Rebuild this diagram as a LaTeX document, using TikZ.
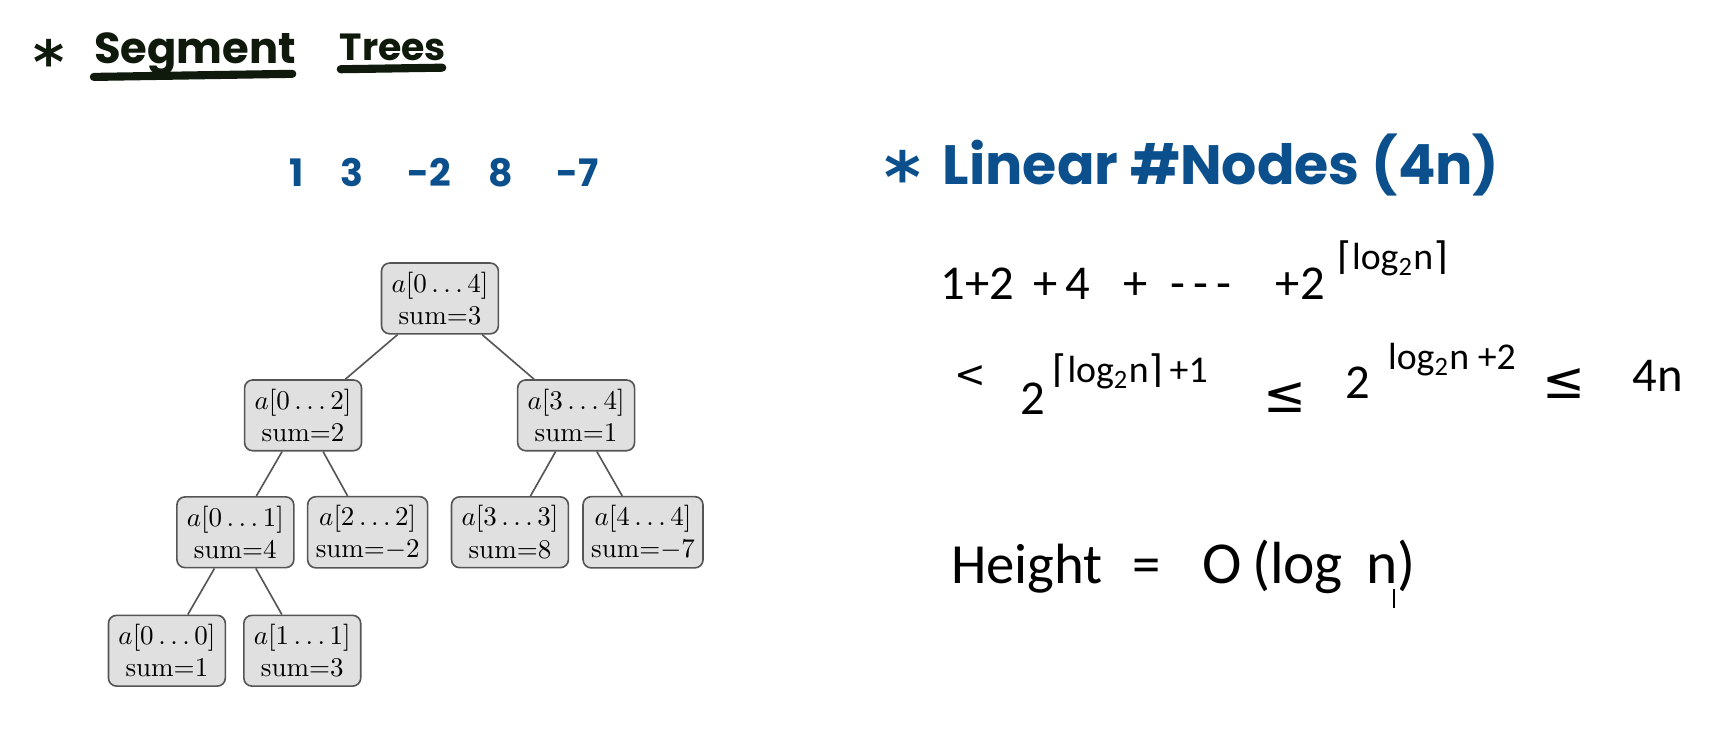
\documentclass[tikz,border=0pt]{standalone}
\usepackage{fontspec}
\usepackage{tikz}
\usetikzlibrary{positioning}
\newfontfamily\handfont{Carlito}
\newfontfamily\headfont{Poppins}
\newfontfamily\symfont{DejaVu Sans}
\definecolor{inkdark}{HTML}{0F1A0C}
\definecolor{inkblue}{HTML}{0B508C}
\definecolor{segfill}{HTML}{E0E0E0}
\definecolor{segline}{HTML}{555555}
\newcommand{\ceillog}{{\symfont ⌈}log\textsubscript{2}n{\symfont ⌉}}
\tikzset{
    segnode/.style={draw=segline, fill=segfill, rounded corners=3pt, align=center,
        inner sep=3pt, minimum width=1.52cm, minimum height=0.92cm, line width=0.6pt},
    segedge/.style={draw=segline, line width=0.6pt},
    headtext/.style={font=\headfont\bfseries\fontsize{16}{19}\selectfont, text=inkdark, inner sep=0pt},
    bluetext/.style={font=\headfont\bfseries\fontsize{20.5}{24}\selectfont, text=inkblue, inner sep=0pt},
    startext/.style={font=\symfont\bfseries\fontsize{22}{26}\selectfont, inner sep=0pt, anchor=base},
    hand/.style={font=\handfont\fontsize{18}{22}\selectfont, inner sep=0pt, anchor=base west},
    expo/.style={font=\handfont\fontsize{14}{16}\selectfont, inner sep=0pt, anchor=base west}
}

\begin{document}
\begin{tikzpicture}
    \path[use as bounding box, fill=white] (0,0) rectangle (22.44,9.72);

    % Title
    \node[startext, text=inkdark] (star1) at (0.64,8.64) {*};
    \node[headtext, anchor=base west] (segword) at (1.22,8.89) {Segment};
    \node[headtext, anchor=base west, font=\headfont\bfseries\fontsize{14}{16}\selectfont] (treesword) at (4.41,8.93) {Trees};
    \draw[inkdark, line width=3pt, line cap=round] (1.22,8.72) -- (3.80,8.76);
    \draw[inkdark, line width=3pt, line cap=round] (4.43,8.82) -- (5.75,8.84);

    % Input array
    \foreach \v/\x [count=\i] in {1/3.86, 3/4.58, -2/5.58, 8/6.51, -7/7.51} {
        \node[bluetext, font=\headfont\bfseries\fontsize{14}{16}\selectfont, anchor=base] (num\i) at (\x,7.29) {\v};
    }

    % Segment tree
    \node[segnode] (r04) at (5.72,5.84) {$a[0\ldots4]$\\sum=3};
    \node[segnode] (r02) at (3.94,4.32) {$a[0\ldots2]$\\sum=2};
    \node[segnode] (r34) at (7.49,4.32) {$a[3\ldots4]$\\sum=1};
    \node[segnode] (r01) at (3.06,2.80) {$a[0\ldots1]$\\sum=4};
    \node[segnode] (r22) at (4.78,2.80) {$a[2\ldots2]$\\sum=$-$2};
    \node[segnode] (r33) at (6.63,2.80) {$a[3\ldots3]$\\sum=8};
    \node[segnode] (r44) at (8.36,2.80) {$a[4\ldots4]$\\sum=$-$7};
    \node[segnode] (r00) at (2.17,1.26) {$a[0\ldots0]$\\sum=1};
    \node[segnode] (r11) at (3.93,1.26) {$a[1\ldots1]$\\sum=3};
    \foreach \p/\c in {r04/r02, r04/r34, r02/r01, r02/r22, r34/r33, r34/r44, r01/r00, r01/r11} {
        \draw[segedge] (\p) -- (\c);
    }

    % Linear number of nodes
    \node[startext, text=inkblue, font=\symfont\bfseries\fontsize{26}{30}\selectfont] (star2) at (11.74,7.09) {*};
    \node[bluetext, anchor=base west] (linhead) at (12.25,7.32) {Linear \#Nodes (4n)};

    % Sum of levels
    \foreach \t/\x [count=\i] in {{1+2}/12.22, +/13.43, 4/13.84, +/14.60, {-\,-\,-}/15.21, +/16.58, 2/16.90} {
        \node[hand] (sumA\i) at (\x,5.82) {\t};
    }
    \node[expo] (expA) at (17.38,6.21) {\ceillog};

    % Bound
    \node[hand, font=\symfont\fontsize{14}{16}\selectfont] (lessB) at (12.40,4.68) {<};
    \node[hand] (twoB) at (13.26,4.33) {2};
    \node[expo] (expB) at (13.68,4.75) {\ceillog\,+1};
    \node[hand, font=\symfont\fontsize{19}{22}\selectfont] (leqB) at (16.42,4.36) {≤};
    \node[hand] (twoC) at (17.49,4.54) {2};
    \node[expo] (expC) at (18.04,4.91) {log\textsubscript{2}n +2};
    \node[hand, font=\symfont\fontsize{19}{22}\selectfont] (leqC) at (20.05,4.54) {≤};
    \node[hand] (fourn) at (21.22,4.63) {4n};

    % Height
    \node[hand, font=\handfont\fontsize{21}{24}\selectfont] (heightword) at (12.36,2.13) {Height};
    \node[hand, font=\handfont\fontsize{21}{24}\selectfont] (eqsign) at (14.72,2.13) {=};
    \node[hand, font=\handfont\fontsize{22}{25}\selectfont] (ologn) at (15.63,2.13) {O\,(log\, n)};
    \draw[line width=0.6pt] (18.12,2.06) -- (18.12,1.82);
\end{tikzpicture}
\end{document}
